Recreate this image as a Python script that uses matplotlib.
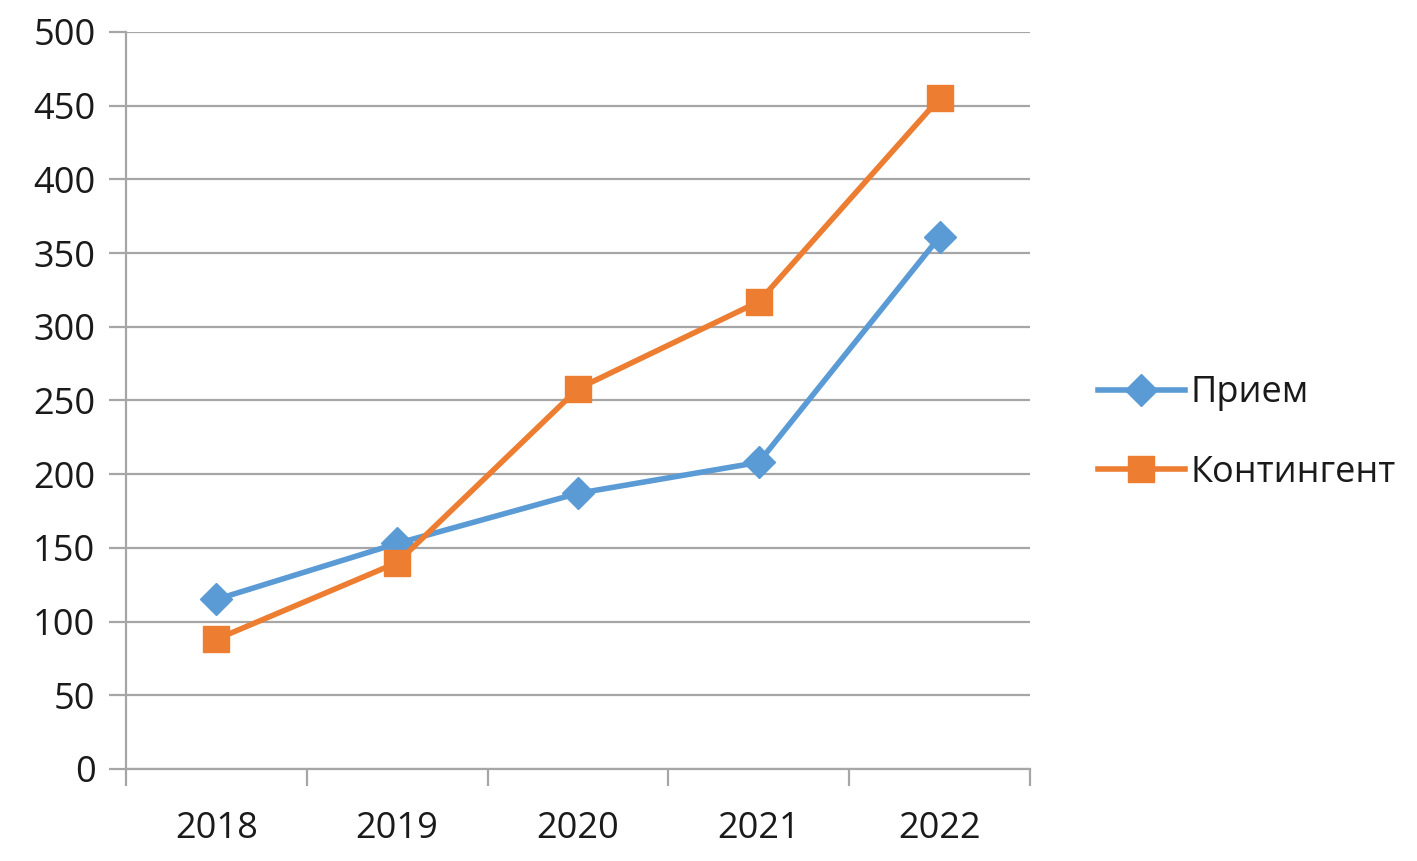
import matplotlib.pyplot as plt

# chart values
years = ['2018', '2019', '2020', '2021', '2022']
priem = [115, 153, 187, 208, 361]
kontingent = [88, 140, 258, 317, 455]
y_ticks = [0, 50, 100, 150, 200, 250, 300, 350, 400, 450, 500]

plt.rcParams['font.family'] = ['Open Sans', 'DejaVu Sans']

fig = plt.figure(figsize=(14.17, 8.61), dpi=100)
ax = fig.add_axes([0.0889, 0.1069, 0.638, 0.856])

grid_col = '#a6a6a6'
x = list(range(len(years)))

ax.plot(x, priem, color='#5b9bd5', lw=4, marker='D', markersize=16,
        label='Прием', zorder=3)
ax.plot(x, kontingent, color='#ed7d31', lw=4, marker='s', markersize=19,
        label='Контингент', zorder=3)

ax.set_xlim(-0.5, len(years) - 0.5)
ax.set_ylim(0, 500)
ax.set_yticks(y_ticks)
ax.set_yticklabels([str(v) for v in y_ticks])
ax.yaxis.grid(True, color=grid_col, lw=1.6)
ax.set_axisbelow(True)

# category labels centered, tick marks at category boundaries
ax.set_xticks(x)
ax.set_xticklabels(years)
ax.tick_params(axis='x', length=0, pad=30)
ax.set_xticks([i - 0.5 for i in range(len(years) + 1)], minor=True)
ax.tick_params(axis='x', which='minor', length=12, width=1.6, color=grid_col)
ax.tick_params(axis='y', length=12, width=1.6, color=grid_col, pad=10)
ax.tick_params(labelsize=26, labelcolor='#1a1a1a')

for s in ['top', 'right']:
    ax.spines[s].set_visible(False)
ax.spines['left'].set_color(grid_col)
ax.spines['left'].set_linewidth(1.6)
ax.spines['bottom'].set_color(grid_col)
ax.spines['bottom'].set_linewidth(1.6)

fig.legend(loc='center left', bbox_to_anchor=(0.752, 0.497), frameon=False,
           fontsize=26, handlelength=2.4, handletextpad=0.15, labelspacing=1.2,
           labelcolor='#1a1a1a')

fig.savefig('out.png', dpi=100)
